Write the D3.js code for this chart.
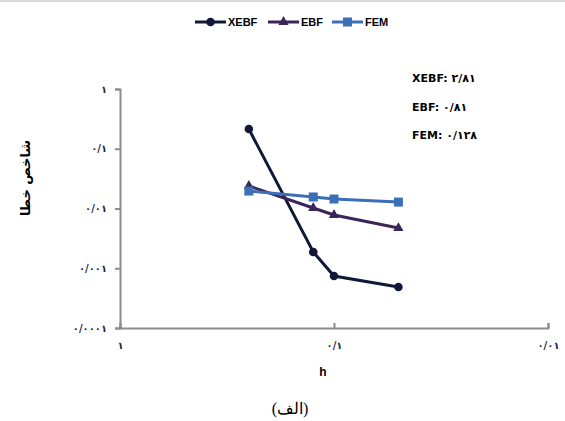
<!DOCTYPE html>
<html><head><meta charset="utf-8">
<script src="https://cdn.jsdelivr.net/npm/d3@7"></script>
<style>body{margin:0;background:#fff;}svg{display:block;}</style>
</head><body>
<svg id="c" width="565" height="421"></svg>
<script>
const hValues = [0.25, 0.125, 0.1, 0.05];
const seriesNames = ["XEBF", "EBF", "FEM"];
const xebf = [0.214, 0.00187, 0.00074, 0.000485];
const ebf = [0.0238, 0.0102, 0.0078, 0.0047];
const fem = [0.0196, 0.0156, 0.0144, 0.0128];
const yTicks = [1, 0.1, 0.01, 0.001, 0.0001];
const yTickLabels = ["۱", "۰/۱", "۰/۰۱", "۰/۰۰۱", "۰/۰۰۰۱"];
const xTicks = [1, 0.1, 0.01];
const xTickLabels = ["۱", "۰/۱", "۰/۰۱"];
const rateLabels = ["XEBF: ۲/۸۱", "EBF: ۰/۸۱", "FEM: ۰/۱۲۸"];
const yTitle = "شاخص خطا";
const xTitle = "h";
const caption = "(الف)";

const colors = {XEBF: "#101838", EBF: "#3a2458", FEM: "#3b6fb6"};
const svg = d3.select("#c");
const x = d3.scaleLog().domain([1, 0.01]).range([120, 548]);
const y = d3.scaleLog().domain([0.0001, 1]).range([328, 89]);

// top border
svg.append("line").attr("x1",0).attr("x2",565).attr("y1",1).attr("y2",1).attr("stroke","#d9d9d9").attr("stroke-width",2);

const axisColor = "#8c8c8c";
const yAxis = svg.append("g").attr("transform","translate(120,0)")
  .call(d3.axisLeft(y).tickValues(yTicks).tickSize(5).tickFormat((d,i)=>yTickLabels[i]));
const xAxis = svg.append("g").attr("transform","translate(0,328)")
  .call(d3.axisBottom(x).tickValues(xTicks).tickSize(-5).tickFormat((d,i)=>xTickLabels[i]));
[yAxis, xAxis].forEach(g=>{
  g.select(".domain").attr("stroke",axisColor).attr("stroke-width",2);
  g.selectAll(".tick line").attr("stroke",axisColor).attr("stroke-width",2);
  g.selectAll("text").attr("fill","#1a2a4a").attr("font-family","DejaVu Sans, sans-serif")
    .attr("font-size",10).attr("font-weight","bold");
});
yAxis.selectAll("text").attr("x",-13);
xAxis.selectAll("text").attr("y",14);

const data = [xebf, ebf, fem];
const line = d3.line().x((d,i)=>x(hValues[i])).y(d=>y(d));
seriesNames.forEach((name,k)=>{
  svg.append("path").datum(data[k]).attr("d",line).attr("fill","none")
    .attr("stroke",colors[name]).attr("stroke-width",3);
  const g = svg.append("g");
  data[k].forEach((v,i)=>{
    drawMarker(g, name, x(hValues[i]), y(v));
  });
});

function drawMarker(g, name, cx, cy){
  const c = colors[name];
  if(name==="XEBF") g.append("circle").attr("cx",cx).attr("cy",cy).attr("r",4.3).attr("fill",c);
  else if(name==="EBF") g.append("path").attr("d",d3.symbol(d3.symbolTriangle,45)()).attr("transform",`translate(${cx},${cy})`).attr("fill",c);
  else g.append("rect").attr("x",cx-4.5).attr("y",cy-4.5).attr("width",9).attr("height",9).attr("fill",c);
}

// legend
const legendX = [195, 268, 332];
seriesNames.forEach((name,k)=>{
  const lx = legendX[k], ly = 22;
  svg.append("line").attr("x1",lx).attr("x2",lx+31).attr("y1",ly).attr("y2",ly).attr("stroke",colors[name]).attr("stroke-width",3);
  drawMarker(svg, name, lx+15.5, ly);
  svg.append("text").attr("x",lx+33).attr("y",ly+4).text(name)
    .attr("font-family","Liberation Sans, Arial, sans-serif").attr("font-size",11).attr("font-weight","bold").attr("fill","#000");
});

// rate annotations
rateLabels.forEach((t,i)=>{
  svg.append("text").attr("x",412).attr("y",82+i*28.5).text(t).attr("direction","ltr")
    .attr("font-family","DejaVu Sans, sans-serif").attr("font-size",11).attr("font-weight","bold").attr("fill","#000")
    .style("unicode-bidi","plaintext");
});

// axis titles
svg.append("text").attr("transform","translate(30,178) rotate(-90)").attr("text-anchor","middle")
  .text(yTitle).attr("font-family","DejaVu Sans, sans-serif").attr("font-size",13).attr("font-weight","bold").attr("fill","#000");
svg.append("text").attr("x",323).attr("y",376).attr("text-anchor","middle").text(xTitle)
  .attr("font-family","Liberation Sans, Arial, sans-serif").attr("font-size",12).attr("font-weight","bold").attr("fill","#000");
svg.append("text").attr("x",290).attr("y",414).attr("text-anchor","middle").text(caption)
  .attr("font-family","Liberation Serif, Times New Roman, serif").attr("font-size",16).attr("fill","#000");
</script>
</body></html>
